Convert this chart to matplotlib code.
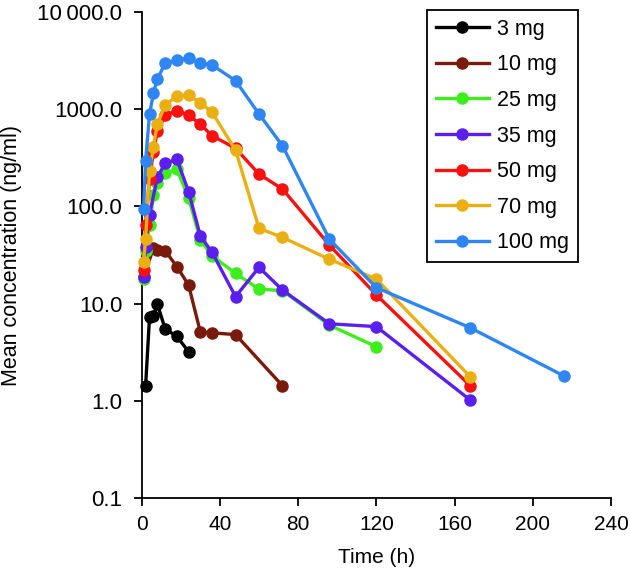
import numpy as np
import matplotlib
matplotlib.use('Agg')
import matplotlib.pyplot as plt
import matplotlib.ticker as mtick

plt.rcParams['font.family'] = ['Liberation Sans', 'DejaVu Sans']

# Mean concentration (ng/ml) by dose
t_3 = [2, 4, 6, 8, 12, 18, 24]
c_3 = [1.42, 7.2, 7.5, 9.9, 5.5, 4.6, 3.2]

t_10 = [1, 6, 8, 12, 18, 24, 30, 36, 48, 72]
c_10 = [19, 37, 36, 35, 24, 15.5, 5.1, 5.0, 4.8, 1.43]

t_25 = [1, 2, 4, 6, 8, 12, 18, 24, 30, 36, 48, 60, 72, 96, 120]
c_25 = [18, 35, 64, 130, 175, 220, 240, 122, 45, 31, 20.5, 14.1, 13.6, 6.0, 3.6]

t_35 = [1, 2, 4, 8, 12, 18, 24, 30, 36, 48, 60, 72, 96, 120, 168]
c_35 = [19, 38, 82, 200, 277, 305, 142, 49.6, 33.7, 11.8, 23.6, 13.8, 6.2, 5.8, 1.02]

t_50 = [1, 2, 4, 6, 8, 12, 18, 24, 30, 36, 48, 60, 72, 96, 120, 168]
c_50 = [22, 64, 190, 363, 590, 871, 966, 871, 700, 534, 396, 215, 151, 40, 12.3, 1.43]

t_70 = [1, 2, 4, 6, 8, 12, 18, 24, 30, 36, 48, 60, 72, 96, 120, 168]
c_70 = [27, 46, 230, 411, 704, 1104, 1367, 1400, 1166, 929, 380, 59.5, 48, 28.6, 17.9, 1.77]

t_100 = [1, 2, 4, 6, 8, 12, 18, 24, 30, 36, 48, 60, 72, 96, 120, 168, 216]
c_100 = [93, 293, 887, 1458, 2045, 2966, 3208, 3388, 3009, 2851, 1964, 893, 421,
         45.9, 14.6, 5.65, 1.80]

labels = ['3 mg', '10 mg', '25 mg', '35 mg', '50 mg', '70 mg', '100 mg']
colors = ['#000000', '#7a1a0c', '#3cef1c', '#5a1fee', '#f8110f', '#eab013', '#2e86f4']

y_ticks = [0.1, 1, 10, 100, 1000, 10000]
y_ticklabels = ['0.1', '1.0', '10.0', '100.0', '1000.0', '10\u2009000.0']
x_ticks = [0, 40, 80, 120, 160, 200, 240]


def plot_concentrations():
    fig = plt.figure(figsize=(6.3, 5.75), dpi=100)
    ax = fig.add_axes([0.2249, 0.1339, 0.9698 - 0.2249, 0.9791 - 0.1339])

    series = [(t_3, c_3), (t_10, c_10), (t_25, c_25), (t_35, c_35),
              (t_50, c_50), (t_70, c_70), (t_100, c_100)]
    for (t, c), label, color in zip(series, labels, colors):
        ax.plot(t, c, '-o', color=color, lw=2.4, markersize=8, label=label,
                clip_on=False, zorder=3)

    ax.set_yscale('log')
    ax.set_ylim(0.1, 10000)
    ax.set_xlim(0, 240)
    ax.set_yticks(y_ticks)
    ax.yaxis.set_major_formatter(mtick.FixedFormatter(y_ticklabels))
    ax.yaxis.set_minor_locator(mtick.NullLocator())
    ax.set_xticks(x_ticks)

    for side in ['top', 'right']:
        ax.spines[side].set_visible(False)
    for side in ['left', 'bottom']:
        ax.spines[side].set_linewidth(1.3)
    ax.tick_params(direction='out', length=6, width=1.3, pad=6)
    ax.tick_params(axis='x', labelsize=15)
    ax.tick_params(axis='y', labelsize=16, pad=8)

    ax.set_xlabel('Time (h)', fontsize=15, labelpad=10)
    ax.set_ylabel('Mean concentration (ng/ml)', fontsize=15.5)
    ax.yaxis.set_label_coords(-0.255, 0.5)

    leg = ax.legend(loc='upper right', bbox_to_anchor=(578 / 630, 1 - 10 / 575),
                    bbox_transform=fig.transFigure, borderaxespad=0,
                    fontsize=15.5, handlelength=2.45, handletextpad=0.4,
                    labelspacing=0.68, borderpad=0.4, fancybox=False,
                    framealpha=1, edgecolor='black')
    leg.get_frame().set_linewidth(1.3)

    fig.savefig('out.png', dpi=100)


if __name__ == '__main__':
    plot_concentrations()
